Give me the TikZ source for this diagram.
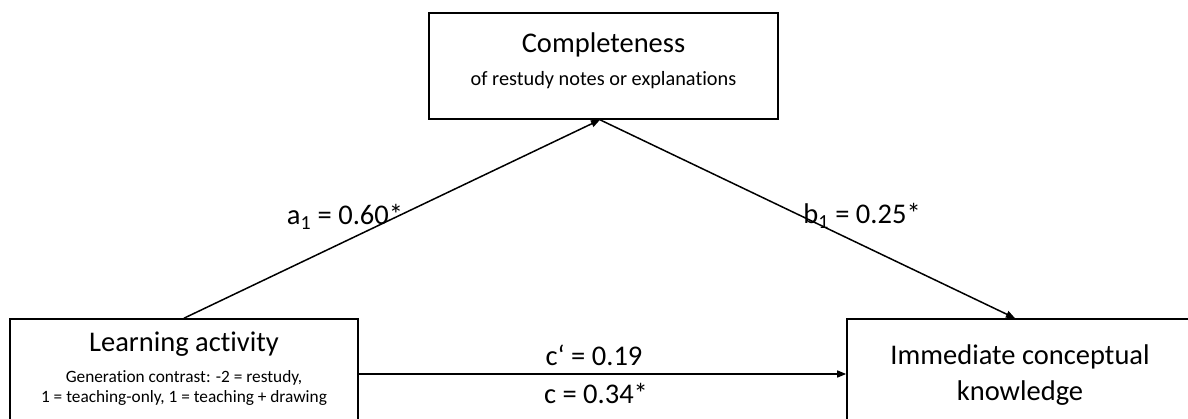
\documentclass[tikz,border=0pt]{standalone}
\usepackage{fontspec}
\setmainfont{Carlito}[Ligatures=NoCommon]
\usetikzlibrary{arrows.meta}
\tikzset{
  box/.style={draw, line width=1.6pt, rectangle, inner sep=0pt},
  big/.style={font=\fontsize{28.5}{30}\selectfont, inner sep=0pt, anchor=center},
  small/.style={font=\fontsize{20.3}{22}\selectfont, inner sep=0pt, anchor=center, align=center},
  smaller/.style={font=\fontsize{17.3}{20}\selectfont, inner sep=0pt, anchor=center, align=center},
  lab/.style={font=\fontsize{28.5}{30}\selectfont, inner sep=0pt, anchor=center},
  path/.style={line width=1.5pt, -{Triangle[length=9pt,width=7pt]}}
}
\begin{document}
\begin{tikzpicture}[x=1pt,y=-1pt]
\useasboundingbox (0,0) rectangle (1188,419);
\clip (0,0) rectangle (1188,419);
% boxes
\node[box, minimum width=349pt, minimum height=106pt] (tbox) at (603.5,66) {};
\node[box, minimum width=348pt, minimum height=110pt] (lbox) at (184,374) {};
\node[box, minimum width=348pt, minimum height=110pt] (rbox) at (1021,374) {};
% texts
\node[big] (t1) at (603.5,45) {Completeness};
\node[small] (t2) at (603.5,80) {of restudy notes or explanations};
\node[big] (l1) at (184,344) {Learning activity};
\node[smaller] (l2) at (184,378) {Generation contrast: -2 = restudy,};
\node[smaller] (l3) at (184,398) {1 = teaching-only, 1 = teaching + drawing};
\node[big] (r1) at (1020,357) {Immediate conceptual};
\node[big] (r2) at (1020,393) {knowledge};
% connection points
\coordinate (tin) at ([xshift=-3.5pt]tbox.south);
\coordinate (rin) at ([xshift=-6pt]rbox.north);
% connectors
\draw[path] (lbox.north) -- (tin);
\draw[path] (tin) -- (rin);
\draw[path] (lbox.east) -- (rbox.west);
% labels
\node[lab] (a) at (345,217) {a\textsubscript{1} = 0.60*};
\node[lab] (b) at (862,216) {b\textsubscript{1} = 0.25*};
\node[lab] (cp) at (594,355) {c‘ = 0.19};
\node[lab] (c) at (596,393) {c = 0.34*};
\end{tikzpicture}
\end{document}
